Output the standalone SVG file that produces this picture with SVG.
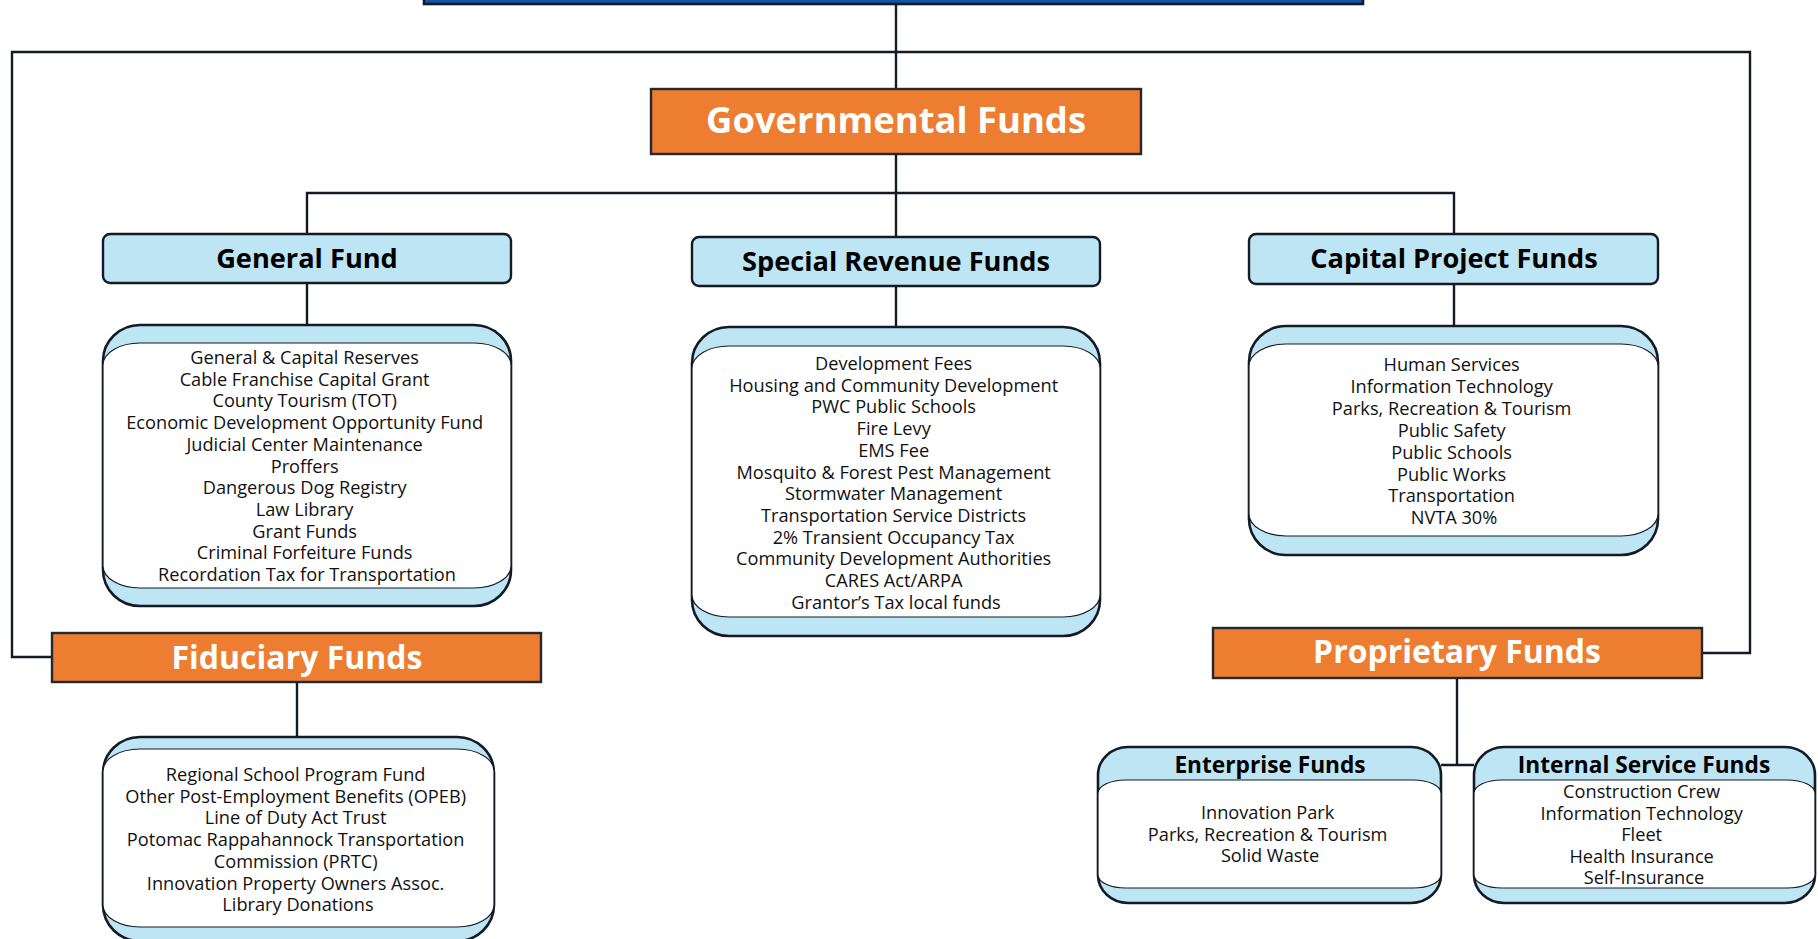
<svg xmlns="http://www.w3.org/2000/svg" width="1818" height="939" viewBox="0 0 1818 939">
<style>
.conn{fill:none;stroke:#141a26;stroke-width:2.4}
.orange{fill:#ED7D31;stroke:#23272f;stroke-width:2.4}
.head{fill:#BEE5F3;stroke:#141a26;stroke-width:2.4}
.outer{fill:#BEE5F3;stroke:#141a26;stroke-width:2.6}
.inner{fill:#ffffff;stroke:#141a26;stroke-width:1.2}
.big{font-family:"Open Sans","Noto Sans",sans-serif;font-weight:bold;fill:#ffffff;text-anchor:middle}
.h{font-family:"Open Sans","Noto Sans",sans-serif;font-weight:bold;fill:#000000;text-anchor:middle;font-size:27.2px}
.sh{font-family:"Open Sans","Noto Sans",sans-serif;font-weight:bold;fill:#000000;text-anchor:middle;font-size:22.7px}
.item{font-family:"Open Sans","Noto Sans",sans-serif;fill:#111111;text-anchor:middle;font-size:18.2px}
</style>
<rect width="1818" height="939" fill="#ffffff"/>
<g id="connectors">
<path class="conn" d="M896 4 V89"/>
<path class="conn" d="M52 657 H12 V52 H1750 V653 H1702"/>
<path class="conn" d="M896 154 V193 M307 234 V193 H1454 V234 M896 193 V237"/>
<path class="conn" d="M307 283 V326 M896 286 V327 M1454 284 V326"/>
<path class="conn" d="M297 682 V737"/>
<path class="conn" d="M1457 678 V765 M1441 765 H1474"/>
</g>
<g id="top-node">
<rect x="424" y="-20" width="939" height="24" fill="#1455A8" stroke="#141a26" stroke-width="2.6"/>
</g>
<g id="governmental-funds">
<rect class="orange" x="651" y="89" width="490" height="65"/>
<text class="big" x="896" y="133" font-size="36.4">Governmental Funds</text>
</g>
<g id="general-fund">
<rect class="head" x="103" y="234" width="408" height="49" rx="7"/>
<text class="h" x="307" y="268">General Fund</text>
</g>
<g id="special-revenue-funds">
<rect class="head" x="692" y="237" width="408" height="49" rx="7"/>
<text class="h" x="896" y="271">Special Revenue Funds</text>
</g>
<g id="capital-project-funds">
<rect class="head" x="1249" y="234" width="409" height="50" rx="7"/>
<text class="h" x="1454" y="268">Capital Project Funds</text>
</g>
<g id="general-fund-list">
<rect class="outer" x="103" y="325" width="408" height="281" rx="37" ry="36"/>
<rect class="inner" x="103" y="343" width="408" height="245" rx="37" ry="22"/>
<text class="item">
<tspan x="307" y="364">General &amp; Capital Reserves</tspan>
<tspan x="307" y="385.7">Cable Franchise Capital Grant</tspan>
<tspan x="307" y="407.4">County Tourism (TOT)</tspan>
<tspan x="307" y="429.1">Economic Development Opportunity Fund</tspan>
<tspan x="307" y="450.8">Judicial Center Maintenance</tspan>
<tspan x="307" y="472.5">Proffers</tspan>
<tspan x="307" y="494.2">Dangerous Dog Registry</tspan>
<tspan x="307" y="515.9">Law Library</tspan>
<tspan x="307" y="537.6">Grant Funds</tspan>
<tspan x="307" y="559.3">Criminal Forfeiture Funds</tspan>
<tspan x="307" y="581">Recordation Tax for Transportation</tspan>
</text>
</g>
<g id="special-revenue-list">
<rect class="outer" x="692" y="327" width="408" height="309" rx="37" ry="36"/>
<rect class="inner" x="692" y="346" width="408" height="271" rx="37" ry="22"/>
<text class="item">
<tspan x="896" y="370">Development Fees</tspan>
<tspan x="896" y="391.7">Housing and Community Development</tspan>
<tspan x="896" y="413.4">PWC Public Schools</tspan>
<tspan x="896" y="435.1">Fire Levy</tspan>
<tspan x="896" y="456.8">EMS Fee</tspan>
<tspan x="896" y="478.5">Mosquito &amp; Forest Pest Management</tspan>
<tspan x="896" y="500.2">Stormwater Management</tspan>
<tspan x="896" y="521.9">Transportation Service Districts</tspan>
<tspan x="896" y="543.6">2% Transient Occupancy Tax</tspan>
<tspan x="896" y="565.3">Community Development Authorities</tspan>
<tspan x="896" y="587">CARES Act/ARPA</tspan>
<tspan x="896" y="608.7">Grantor’s Tax local funds</tspan>
</text>
</g>
<g id="capital-project-list">
<rect class="outer" x="1249" y="326" width="409" height="229" rx="37" ry="36"/>
<rect class="inner" x="1249" y="344" width="409" height="192" rx="37" ry="22"/>
<text class="item">
<tspan x="1454" y="371">Human Services</tspan>
<tspan x="1454" y="392.9">Information Technology</tspan>
<tspan x="1454" y="414.8">Parks, Recreation &amp; Tourism</tspan>
<tspan x="1454" y="436.7">Public Safety</tspan>
<tspan x="1454" y="458.6">Public Schools</tspan>
<tspan x="1454" y="480.5">Public Works</tspan>
<tspan x="1454" y="502.4">Transportation</tspan>
<tspan x="1454" y="524.3">NVTA 30%</tspan>
</text>
</g>
<g id="fiduciary-funds">
<rect class="orange" x="52" y="633" width="489" height="49"/>
<text class="big" x="297" y="669" font-size="32">Fiduciary Funds</text>
</g>
<g id="fiduciary-list">
<rect class="outer" x="103" y="737" width="391" height="204" rx="37" ry="36"/>
<rect class="inner" x="103" y="749" width="391" height="178" rx="37" ry="22"/>
<text class="item">
<tspan x="298" y="781">Regional School Program Fund</tspan>
<tspan x="298" y="802.7">Other Post-Employment Benefits (OPEB)</tspan>
<tspan x="298" y="824.4">Line of Duty Act Trust</tspan>
<tspan x="298" y="846.1">Potomac Rappahannock Transportation</tspan>
<tspan x="298" y="867.8">Commission (PRTC)</tspan>
<tspan x="298" y="889.5">Innovation Property Owners Assoc.</tspan>
<tspan x="298" y="911.2">Library Donations</tspan>
</text>
</g>
<g id="proprietary-funds">
<rect class="orange" x="1213" y="628" width="489" height="50"/>
<text class="big" x="1457" y="663" font-size="32">Proprietary Funds</text>
</g>
<g id="enterprise-funds">
<rect class="outer" x="1098" y="747" width="343" height="156" rx="30" ry="28"/>
<rect class="inner" x="1098" y="780" width="343" height="108" rx="28" ry="13"/>
<text class="sh" x="1270" y="773">Enterprise Funds</text>
<text class="item">
<tspan x="1270" y="819">Innovation Park</tspan>
<tspan x="1270" y="840.7">Parks, Recreation &amp; Tourism</tspan>
<tspan x="1270" y="862.4">Solid Waste</tspan>
</text>
</g>
<g id="internal-service-funds">
<rect class="outer" x="1474" y="747" width="341" height="156" rx="30" ry="28"/>
<rect class="inner" x="1474" y="780" width="341" height="108" rx="28" ry="13"/>
<text class="sh" x="1644" y="773">Internal Service Funds</text>
<text class="item">
<tspan x="1644" y="798">Construction Crew</tspan>
<tspan x="1644" y="819.6">Information Technology</tspan>
<tspan x="1644" y="841.2">Fleet</tspan>
<tspan x="1644" y="862.8">Health Insurance</tspan>
<tspan x="1644" y="884.4">Self-Insurance</tspan>
</text>
</g>
</svg>
